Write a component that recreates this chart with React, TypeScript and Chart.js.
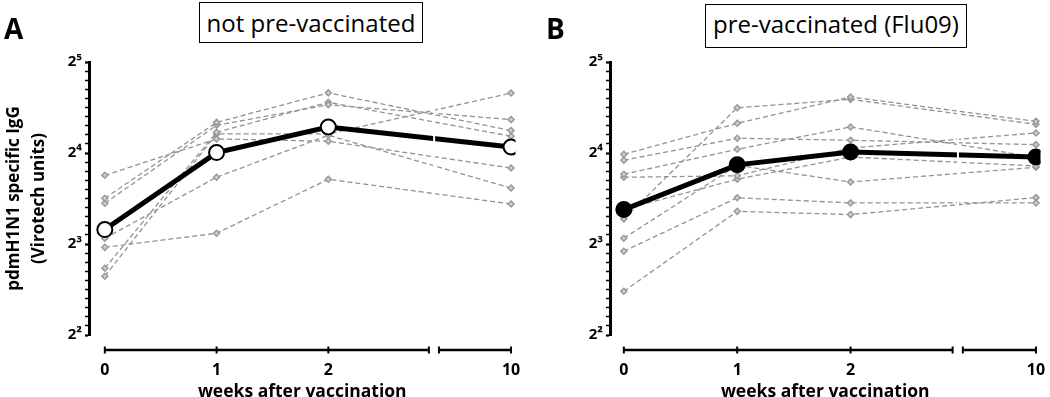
import React, { useEffect, useRef } from 'react';
import { Chart, registerables } from 'chart.js';

Chart.register(...registerables);

// ---------- shared axis data ----------
const weekLabels = ['0', '1', '2', '10'];
const weekPositions = [0, 1, 2, 3.635];
const axisBreak = [2.9, 2.99];
const breakGap = 2.947;
const yTickLabels: Record<number, string> = { 4: '2²', 8: '2³', 16: '2⁴', 32: '2⁵' };

// ---------- Panel A: not pre-vaccinated (Virotech units at weeks 0,1,2,10) ----------
const notPreMean = [8.93, 16.05, 19.5, 16.75];
const notPreS1 = [13.5, 17.81, 17.5, 14.27];
const notPreS2 = [11.33, 20.2, 25.3, 18.98];
const notPreS3 = [10.91, 19.76, 23.1, 20.64];
const notPreS4 = [8.36, 13.3, 18.32, 12.25];
const notPreS5 = [7.8, 8.68, 13.1, 10.85];
const notPreS6 = [6.65, 18.73, 23.54, 18.18];
const notPreS7 = [6.26, 18.5, 18.5, 25.26];

// ---------- Panel B: pre-vaccinated (Flu09) ----------
const preMean = [10.4, 14.62, 16.12, 15.52];
const preS1 = [15.84, 20.06, 24.51, 20.36];
const preS2 = [15.14, 17.9, 17.63, 17.05];
const preS3 = [13.61, 16.46, 19.51, 15.49];
const preS4 = [13.3, 13.45, 16.62, 18.64];
const preS5 = [10.42, 13.1, 15.52, 14.49];
const preS6 = [9.69, 22.58, 24.08, 19.9];
const preS7 = [8.36, 14.57, 12.83, 14.35];
const preS8 = [7.57, 11.38, 10.94, 10.94];
const preS9 = [5.58, 10.26, 10.01, 11.39];

const FONT = "'Open Sans', 'DejaVu Sans', sans-serif";
const TICK_FONT = "'Noto Sans', 'DejaVu Sans', sans-serif";

const toPoints = (vals: number[]) => vals.map((v, i) => ({ x: weekPositions[i], y: v }));

const brokenAxisPlugin = {
  id: 'brokenAxis',
  afterDatasetsDraw(chart: any) {
    const { ctx, chartArea, scales } = chart;
    const gx = scales.x.getPixelForValue(breakGap);
    ctx.save();
    ctx.strokeStyle = '#ffffff';
    ctx.lineWidth = 2;
    ctx.beginPath();
    ctx.moveTo(gx, chartArea.top);
    ctx.lineTo(gx, chartArea.bottom);
    ctx.stroke();
    ctx.restore();
  },
  afterDraw(chart: any) {
    const { ctx, chartArea, scales } = chart;
    const x = scales.x;
    const y = chartArea.bottom + 15;
    const segs = [
      [weekPositions[0], axisBreak[0]],
      [axisBreak[1], weekPositions[3]],
    ];
    ctx.save();
    ctx.strokeStyle = '#000';
    ctx.lineWidth = 2.5;
    ctx.lineCap = 'butt';
    segs.forEach(([a, b]) => {
      ctx.beginPath();
      ctx.moveTo(x.getPixelForValue(a), y);
      ctx.lineTo(x.getPixelForValue(b), y);
      ctx.stroke();
    });
    ctx.lineWidth = 2;
    const tickVals = [...weekPositions, ...axisBreak];
    tickVals.forEach((v) => {
      const px = x.getPixelForValue(v);
      ctx.beginPath();
      ctx.moveTo(px, y - 3.5);
      ctx.lineTo(px, y + 3.5);
      ctx.stroke();
    });
    ctx.restore();
  },
};

type PanelProps = {
  subjects: number[][];
  mean: number[];
  meanFill: string;
  yWidth: number;
  xMin: number;
  showYTitle: boolean;
};

function Panel({ subjects, mean, meanFill, yWidth, xMin, showYTitle }: PanelProps) {
  const ref = useRef<HTMLCanvasElement | null>(null);
  useEffect(() => {
    if (!ref.current) return;
    const datasets: any[] = [
      {
        data: toPoints(mean),
        borderColor: '#000',
        borderWidth: 5,
        pointRadius: 7.5,
        pointBorderWidth: 2,
        pointBackgroundColor: meanFill,
        pointBorderColor: '#000',
        pointStyle: 'circle',
        order: 0,
      },
      ...subjects.map((s, i) => ({
        data: toPoints(s),
        borderColor: '#939393',
        borderWidth: 1.3,
        borderDash: [5, 3],
        pointStyle: 'rectRot',
        pointRadius: 3,
        pointBorderWidth: 1.5,
        pointBackgroundColor: '#cfcfcf',
        pointBorderColor: '#999',
        order: 1 + i,
      })),
    ];
    const chart = new Chart(ref.current, {
      type: 'line',
      data: { datasets },
      plugins: [brokenAxisPlugin],
      options: {
        animation: false,
        responsive: false,
        devicePixelRatio: 1,
        layout: { padding: { top: 62, right: 5, left: 0, bottom: 0 } },
        plugins: { legend: { display: false }, tooltip: { enabled: false } },
        scales: {
          x: {
            type: 'linear',
            min: xMin,
            max: 3.675,
            afterBuildTicks: (s: any) => {
              s.ticks = weekPositions.map((v) => ({ value: v }));
            },
            afterFit: (s: any) => {
              s.height = 62;
              s.paddingLeft = 0;
              s.paddingRight = 0;
            },
            ticks: {
              autoSkip: false,
              maxRotation: 0,
              padding: 26,
              color: '#000',
              font: { family: FONT, size: 16, weight: 'bold' },
              callback: (_v: any, i: number) => weekLabels[i],
            },
            grid: { display: false, drawTicks: false },
            border: { display: false },
            title: {
              display: true,
              text: 'weeks after vaccination',
              color: '#000',
              font: { family: FONT, size: 17.5, weight: 'bold', lineHeight: 1 },
              padding: { top: 0, bottom: -4 },
            },
          },
          y: {
            type: 'logarithmic',
            min: 4,
            max: 32,
            afterBuildTicks: (s: any) => {
              const t: any[] = [];
              for (let k = 0; k <= 30; k++) t.push({ value: Math.pow(2, 2 + k / 10) });
              s.ticks = t;
            },
            afterFit: (s: any) => {
              s.width = yWidth;
              s.paddingTop = 0;
              s.paddingBottom = 0;
            },
            ticks: {
              autoSkip: false,
              padding: 3,
              color: '#000',
              font: { family: TICK_FONT, size: 15, weight: 'bold' },
              callback: (v: any) => yTickLabels[v as number] ?? '',
            },
            grid: {
              drawOnChartArea: false,
              drawTicks: true,
              tickLength: 4,
              tickColor: '#000',
              tickWidth: (ctx: any) => (yTickLabels[ctx.tick?.value] ? 2.2 : 1.5),
            },
            border: { display: true, color: '#000', width: 3 },
            title: {
              display: showYTitle,
              text: ['pdmH1N1 specific IgG', '(Virotech units)'],
              color: '#000',
              font: { family: FONT, size: 17, weight: 'bold', lineHeight: 1.5 },
              padding: { top: 1, bottom: 0 },
            },
          },
        },
      } as any,
    });
    return () => chart.destroy();
  }, []);
  return <canvas ref={ref} width={525} height={397} style={{ width: 525, height: 397, display: 'block' }} />;
}

export default function App() {
  const boxStyle: React.CSSProperties = {
    position: 'absolute',
    border: '1px solid #000',
    boxSizing: 'border-box',
    textAlign: 'center',
    fontFamily: FONT,
    fontSize: 24,
    color: '#000',
    background: '#fff',
    whiteSpace: 'nowrap',
  };
  const letterStyle: React.CSSProperties = {
    position: 'absolute',
    fontFamily: FONT,
    fontWeight: 'bold',
    fontSize: 28,
    lineHeight: '28px',
    color: '#000',
  };
  return (
    <div style={{ position: 'fixed', left: 0, top: 0, width: 1050, height: 397, overflow: 'hidden', background: '#fff' }}>
      <div style={{ position: 'absolute', left: 0, top: 0 }}>
        <Panel
          subjects={[notPreS1, notPreS2, notPreS3, notPreS4, notPreS5, notPreS6, notPreS7]}
          mean={notPreMean}
          meanFill="#ffffff"
          yWidth={89}
          xMin={-0.1416}
          showYTitle={true}
        />
      </div>
      <div style={{ position: 'absolute', left: 525, top: 0 }}>
        <Panel
          subjects={[preS1, preS2, preS3, preS4, preS5, preS6, preS7, preS8, preS9]}
          mean={preMean}
          meanFill="#000000"
          yWidth={85}
          xMin={-0.122}
          showYTitle={false}
        />
      </div>
      <div style={{ ...letterStyle, left: 4, top: 14 }}>A</div>
      <div style={{ ...letterStyle, left: 546, top: 14 }}>B</div>
      <div style={{ ...boxStyle, left: 199, top: 2, width: 224, height: 41, lineHeight: '39px' }}>not pre-vaccinated</div>
      <div style={{ ...boxStyle, left: 705, top: 4, width: 262, height: 44, lineHeight: '38px' }}>pre-vaccinated (Flu09)</div>
    </div>
  );
}
